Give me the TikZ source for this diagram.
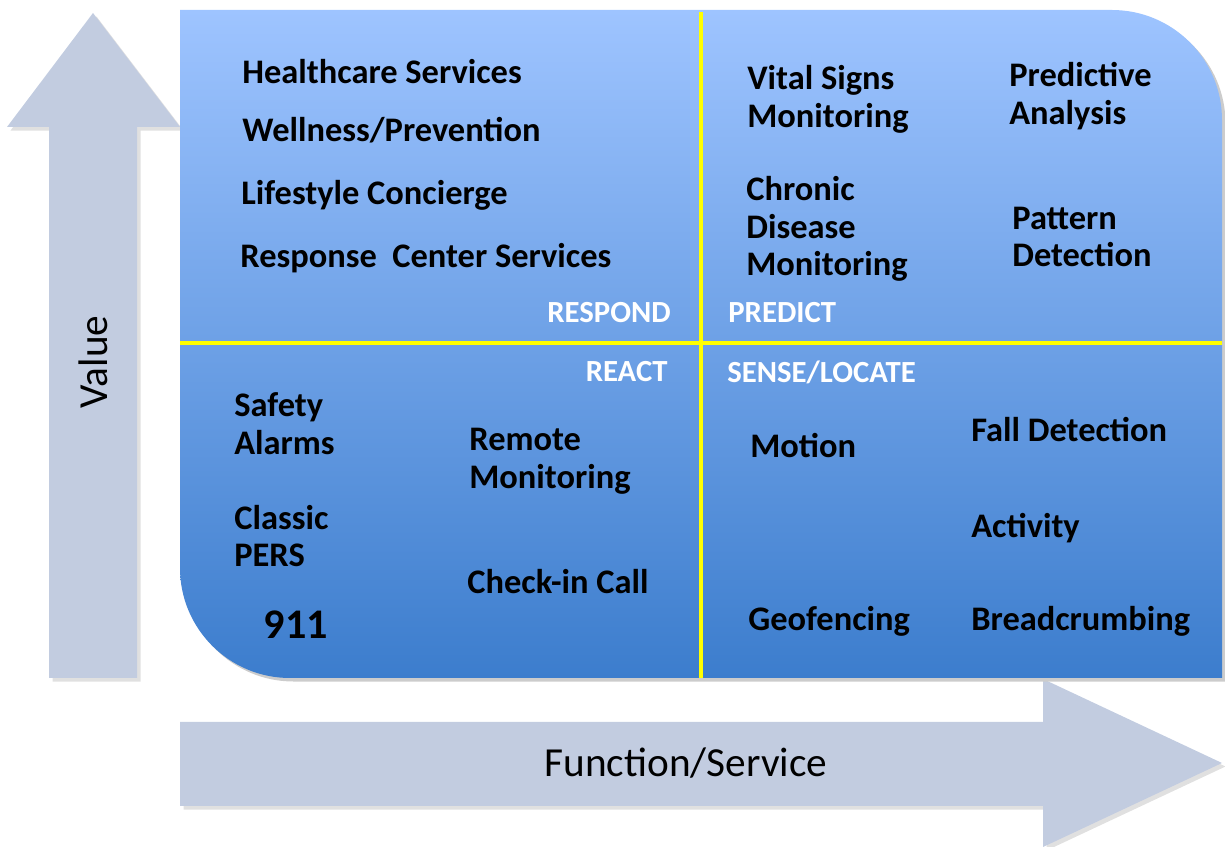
\documentclass[tikz,border=0pt]{standalone}
\usepackage{fontspec}
\setmainfont{Carlito}
\usetikzlibrary{positioning}

\definecolor{quadtop}{RGB}{158,196,255}
\definecolor{quadbot}{RGB}{60,125,205}
\definecolor{axisgray}{RGB}{194,204,224}
\definecolor{splitline}{RGB}{255,255,0}

\begin{document}
\begin{tikzpicture}[x=0.02cm,y=-0.02cm,
  item/.style={inner sep=0pt,anchor=west,align=left,font=\fontsize{19.6}{21.5}\selectfont\bfseries},
  tag/.style={inner sep=0pt,text=white,font=\fontsize{17.5}{20}\selectfont\bfseries},
  axis/.style={fill=axisgray,draw=none},
  axis label/.style={inner sep=0pt,font=\fontsize{23.5}{27}\selectfont}]
\useasboundingbox (0,0) rectangle (1225,847);

% axes
\fill[black!12,xshift=2,yshift=-2] (93,13) -- (180,127) -- (137,127) -- (137,678) -- (49,678) -- (49,127) -- (7,127) -- cycle;
\fill[axis] (93,13) -- (180,127) -- (137,127) -- (137,678) -- (49,678) -- (49,127) -- (7,127) -- cycle;
\fill[black!12,xshift=2,yshift=-2] (180,722) -- (1043,722) -- (1043,679) -- (1222,763) -- (1043,847) -- (1043,806) -- (180,806) -- cycle;
\fill[axis] (180,722) -- (1043,722) -- (1043,679) -- (1222,763) -- (1043,847) -- (1043,806) -- (180,806) -- cycle;
\node[axis label,rotate=90] (value) at (93,362) {Value};
\node[axis label] (function) at (686,763) {Function/Service};

% quadrant panel
\fill[black!20,xshift=2,yshift=-2] (180,10) -- (1112,10) arc[start angle=-90,end angle=0,radius=110]
  -- (1222,678) -- (290,678) arc[start angle=90,end angle=180,radius=110] -- cycle;
\shade[top color=quadtop,bottom color=quadbot] (180,10) -- (1112,10) arc[start angle=-90,end angle=0,radius=110]
  -- (1222,678) -- (290,678) arc[start angle=90,end angle=180,radius=110] -- cycle;
\coordinate (vtop) at (701,12);
\coordinate (vbot) at (701,678);
\coordinate (hleft) at (180,343);
\coordinate (hright) at (1222,343);
\draw[splitline,line width=2.2pt] (vtop) -- (vbot);
\draw[splitline,line width=2.2pt] (hleft) -- (hright);

\node[tag,anchor=east] (respond) at (671,313) {RESPOND};
\node[tag,anchor=west] (predict) at (728,313) {PREDICT};
\node[tag,anchor=east] (react) at (668,372) {REACT};
\node[tag,anchor=west] (sense) at (727,372) {SENSE/LOCATE};

% respond
\node[item] (health) at (242,72) {Healthcare Services};
\node[item] (wellness) at (242,130) {Wellness/Prevention};
\node[item] (lifestyle) at (241,195) {Lifestyle Concierge};
\node[item] (response) at (240,258) {Response\ \ Center Services};

% predict
\node[item] (vital) at (747,99) {Vital Signs\\Monitoring};
\node[item] (predictive) at (1009,96) {Predictive\\Analysis};
\node[item] (chronic) at (746,229) {Chronic\\Disease\\Monitoring};
\node[item] (pattern) at (1012,237) {Pattern\\Detection};

% react
\node[item] (safety) at (234,424) {Safety\\Alarms};
\node[item] (classic) at (234,536) {Classic\\PERS};
\node[item,anchor=center,font=\fontsize{24}{28}\selectfont\bfseries] (nine) at (296,625) {911};
\node[item] (remote) at (469,461) {Remote\\Monitoring};
\node[item] (checkin) at (467,582) {Check-in Call};

% sense/locate
\node[item] (motion) at (750,446) {Motion};
\node[item] (fall) at (971,430) {Fall Detection};
\node[item] (activity) at (971,528) {Activity};
\node[item] (geofence) at (748,621) {Geofencing};
\node[item] (crumb) at (971,621) {Breadcrumbing};
\end{tikzpicture}
\end{document}
